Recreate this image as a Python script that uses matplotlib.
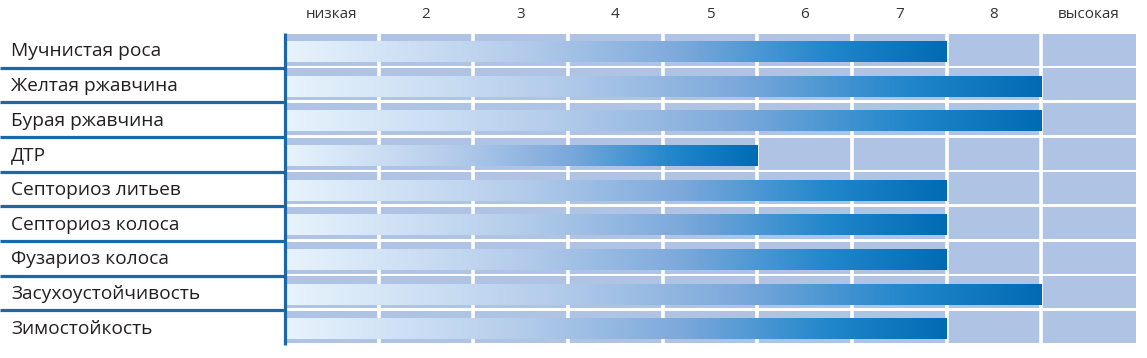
import numpy as np
import matplotlib
matplotlib.use("Agg")
from matplotlib import pyplot as plt
from matplotlib.colors import LinearSegmentedColormap
from matplotlib.transforms import blended_transform_factory

# данные
traits = ["Мучнистая роса", "Желтая ржавчина", "Бурая ржавчина", "ДТР",
          "Септориоз литьев", "Септориоз колоса", "Фузариоз колоса",
          "Засухоустойчивость", "Зимостойкость"]
scores = [7, 8, 8, 5, 7, 7, 7, 8, 7]
scale_labels = ["низкая", "2", "3", "4", "5", "6", "7", "8", "высокая"]

plt.rcParams['font.family'] = ['Open Sans', 'DejaVu Sans']

W, H = 1147, 358
fig = plt.figure(figsize=(W / 100, H / 100), dpi=100)
ax = fig.add_axes([284 / W, 13 / H, 852 / W, 312 / H])
ax.axis('off')

cmap = LinearSegmentedColormap.from_list(
    "bar", [(0, "#e8f4fd"), (0.35, "#b5cdeb"), (0.6, "#7ca9db"),
            (0.82, "#2287cb"), (1, "#006bb4")])
grad = np.linspace(0, 1, 256).reshape(1, -1)

n = len(scale_labels)
for i, (name, val) in enumerate(zip(traits, scores)):
    # фон строки
    ax.barh(i + 0.48, n, height=0.92, left=0, color="#afc4e4", zorder=1)
    # градиентная полоса
    ax.imshow(grad, cmap=cmap, aspect='auto', zorder=3,
              extent=(0, val, i + 0.84, i + 0.26), interpolation='bilinear')

# белые разделители колонок
for k in range(1, n):
    ax.axvline(k, color="white", lw=2.6, zorder=2)

ax.set_xlim(0, n)
ax.set_ylim(len(traits), 0)

# вертикальная синяя линия
ax.plot([0.015, 0.015], [0, len(traits)], color="#1a68a8", lw=2.3, zorder=4,
        clip_on=False, solid_capstyle='butt')

# горизонтальные линии слева
tr = blended_transform_factory(fig.transFigure, ax.transData)
for k in range(1, len(traits)):
    ax.plot([0, 286 / W], [k, k], color="#1a68a8", lw=2.3, transform=tr,
            clip_on=False, solid_capstyle='butt')

for i, name in enumerate(traits):
    ax.text(11 / W, i + 0.53, name, transform=tr, va='center', ha='left',
            fontsize=13.8, color="#231f20")

for j, lab in enumerate(scale_labels):
    ax.text(j + 0.5, -0.52, lab, ha='center', va='center', fontsize=11,
            color="#333333", clip_on=False)

fig.savefig("out.png", dpi=100)
